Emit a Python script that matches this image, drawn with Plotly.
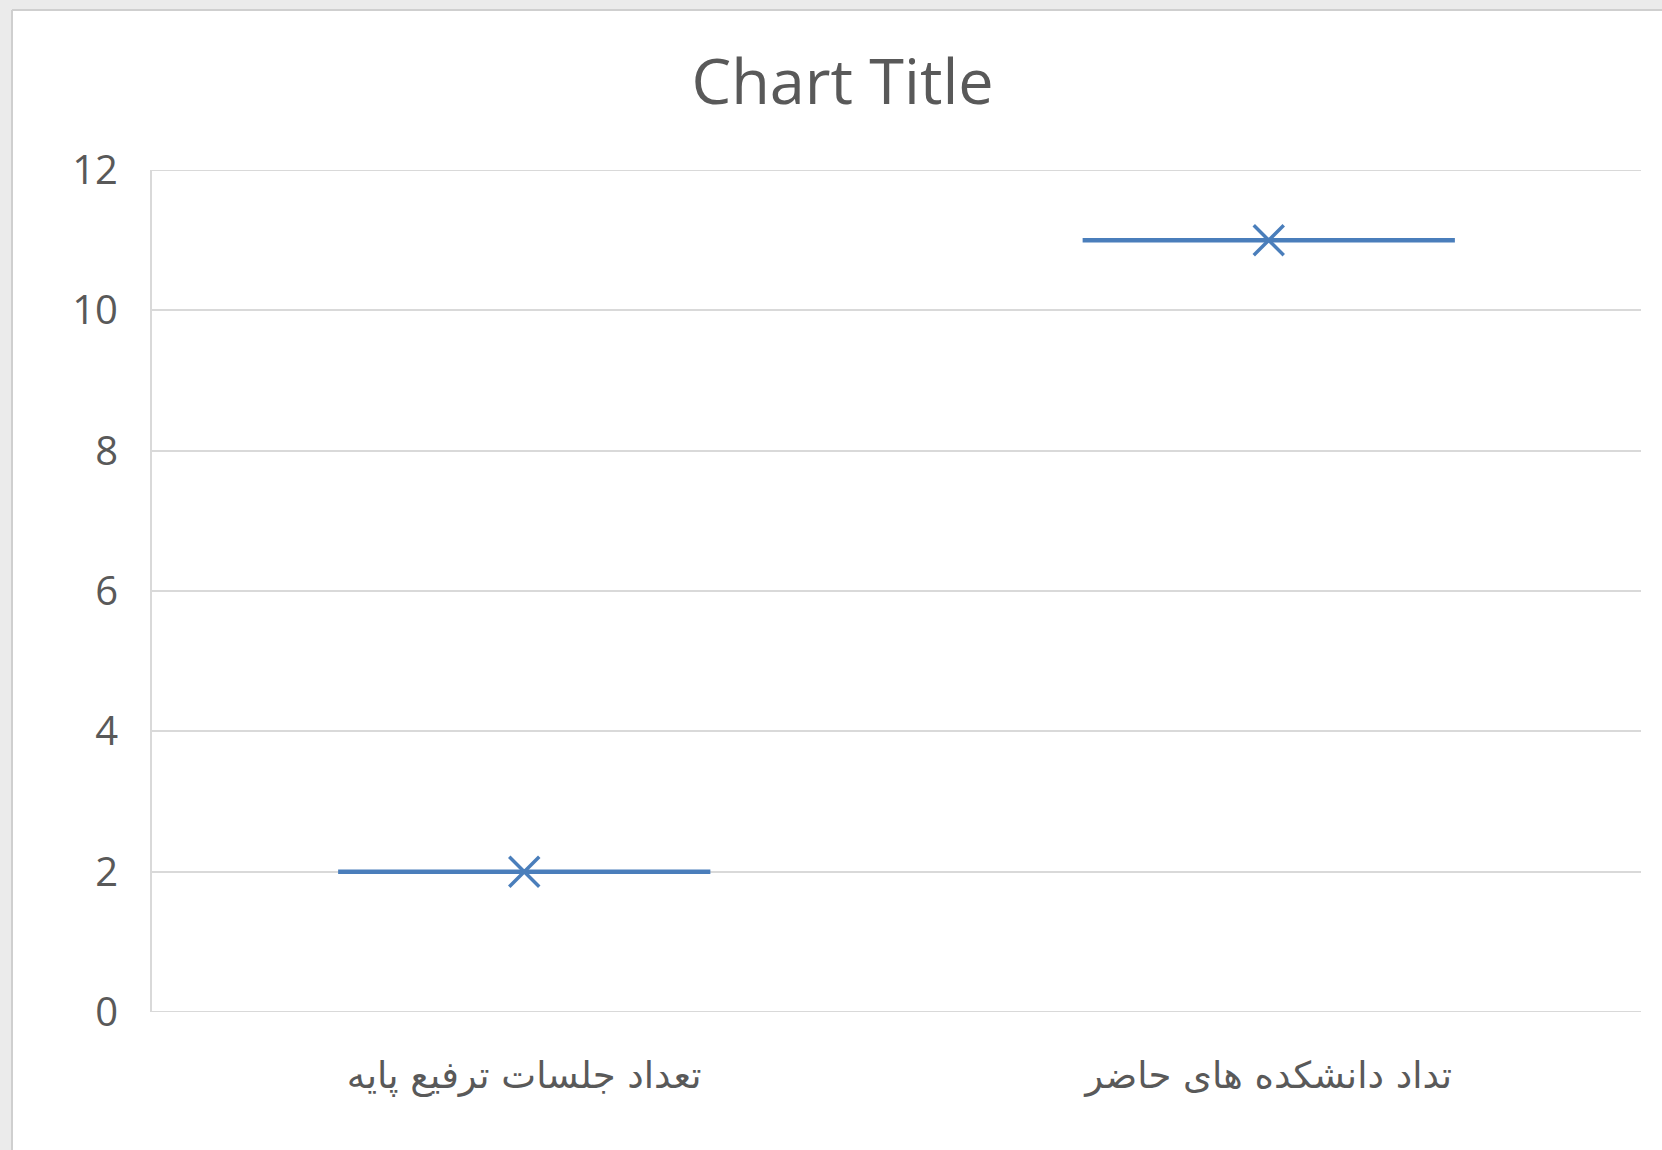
import plotly.graph_objects as go

categories = ["تعداد جلسات ترفیع پایه", "تداد دانشکده های حاضر"]
values = [2, 11]
y_ticks = [0, 2, 4, 6, 8, 10, 12]

W, H = 1662, 1150
ML, MR, MT, MB = 152, 21, 170, 138
PW, PH = W - ML - MR, H - MT - MB

def px_x(p):
    return (p - ML) / PW

def px_y(p):
    return (H - MB - p) / PH

blue = "#4A7EBB"
grid = "#d9d9d9"
txt = "#595959"

idx = list(range(len(categories)))
fig = go.Figure()

# horizontal dash per category, centred on the category slot
for i, v in zip(idx, values):
    fig.add_trace(go.Scatter(
        x=[i - 0.25, i + 0.25], y=[v, v], mode="lines",
        line=dict(color=blue, width=4.5), showlegend=False, hoverinfo="skip"))

fig.add_trace(go.Scatter(
    x=idx, y=values, mode="markers",
    marker=dict(symbol="x-thin", size=30, color=blue,
                line=dict(color=blue, width=3.5)),
    showlegend=False))

# watermark-like border region around chart area
shapes = [
    dict(type="rect", xref="paper", yref="paper",
         x0=px_x(0), x1=px_x(W), y0=px_y(0), y1=px_y(10),
         fillcolor="#ebebeb", line=dict(width=0), layer="below"),
    dict(type="rect", xref="paper", yref="paper",
         x0=px_x(0), x1=px_x(12), y0=px_y(H), y1=px_y(0),
         fillcolor="#ebebeb", line=dict(width=0), layer="below"),
    dict(type="line", xref="paper", yref="paper",
         x0=px_x(12), x1=px_x(12), y0=px_y(H), y1=px_y(10),
         line=dict(color="#cfcfcf", width=2), layer="below"),
    dict(type="line", xref="paper", yref="paper",
         x0=px_x(12), x1=px_x(W), y0=px_y(10), y1=px_y(10),
         line=dict(color="#cfcfcf", width=2), layer="below"),
]
# gridlines at the range ends (plotly skips them at the edges)
for yv in (y_ticks[0], y_ticks[-1]):
    shapes.append(dict(type="line", xref="paper", yref="y", x0=0, x1=1, y0=yv, y1=yv,
                       line=dict(color=grid, width=2), layer="below"))

fig.update_layout(
    width=W, height=H,
    margin=dict(l=ML, r=MR, t=MT, b=MB),
    paper_bgcolor="white", plot_bgcolor="white",
    shapes=shapes,
    title=dict(text="Chart Title", x=px_x(842.6), xref="paper", xanchor="center",
               y=1 - 82 / H, yref="container", yanchor="middle",
               font=dict(family="Open Sans, Liberation Sans, sans-serif", size=63, color=txt)),
    xaxis=dict(range=[-0.5, len(categories) - 0.5], tickvals=idx, ticktext=categories,
               showgrid=False, zeroline=False, showline=False, ticks="",
               ticklabelstandoff=38,
               tickfont=dict(family="DejaVu Sans", size=37, color=txt)),
    yaxis=dict(range=[0, 12], tickvals=y_ticks, showgrid=True, gridcolor=grid, gridwidth=2,
               zeroline=False, showline=True, linecolor=grid, linewidth=2,
               ticks="", ticklabelstandoff=24,
               tickfont=dict(family="Open Sans, Liberation Sans, sans-serif", size=40, color=txt)),
)

fig.write_html("out.html", config={"displayModeBar": False},
               post_script="document.body.style.margin='0';document.body.style.overflow='hidden';")
